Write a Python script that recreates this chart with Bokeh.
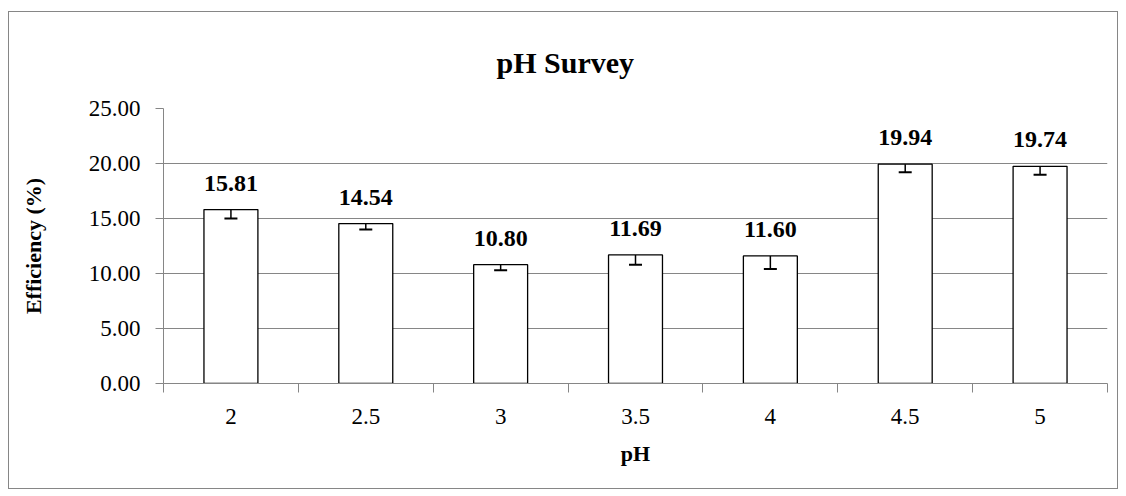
import numpy as np
from bokeh.plotting import figure
from bokeh.models import (ColumnDataSource, Whisker, TeeHead, FixedTicker, Range1d,
                          LabelSet, Title)
from bokeh.core.properties import value
from bokeh.embed import file_html
from bokeh.resources import INLINE

categories = ["2", "2.5", "3", "3.5", "4", "4.5", "5"]
efficiency = [15.81, 14.54, 10.80, 11.69, 11.60, 19.94, 19.74]
errors = [0.80, 0.55, 0.50, 0.90, 1.20, 0.73, 0.76]
y_ticks = [0, 5, 10, 15, 20, 25]

SERIF = "Liberation Serif"
GRID = "#868686"

x = np.arange(len(categories)) + 0.5
src = ColumnDataSource(dict(
    x=x, top=efficiency,
    lower=[v - e for v, e in zip(efficiency, errors)],
    label=[f"{v:.2f}" for v in efficiency],
))

p = figure(width=1110, height=478, output_backend="svg", toolbar_location=None,
           x_range=Range1d(0, len(categories)), y_range=Range1d(0, 25),
           min_border_left=154, min_border_right=12, min_border_top=96,
           min_border_bottom=107, margin=(11, 8, 7, 8),
           styles={"border": "1px solid #868686"})
p.outline_line_color = None
p.background_fill_color = "white"
p.border_fill_color = "white"

p.vbar(x="x", top="top", bottom=0, width=0.4, source=src,
       fill_color="white", line_color="black", line_width=1.3)

p.add_layout(Whisker(base="x", upper="top", lower="lower", source=src,
                     level="overlay", upper_head=None,
                     lower_head=TeeHead(size=13, line_color="black", line_width=2),
                     line_color="black", line_width=1.5))

p.add_layout(LabelSet(x="x", y="top", text="label", source=src,
                      text_align="center", text_baseline="alphabetic", y_offset=19,
                      text_font=value(SERIF), text_font_style="bold",
                      text_font_size="24px", text_color="black"))

# y axis
p.yaxis.ticker = FixedTicker(ticks=y_ticks)
p.yaxis.major_label_overrides = {t: f"{t:.2f}" for t in y_ticks}
p.yaxis.major_tick_in = 0
p.yaxis.major_tick_out = 8
p.yaxis.minor_tick_out = 0
p.yaxis.minor_tick_in = 0
p.yaxis.axis_line_color = GRID
p.yaxis.major_tick_line_color = GRID
p.yaxis.major_label_text_font = SERIF
p.yaxis.major_label_text_font_size = "23px"
p.yaxis.major_label_text_color = "black"
p.yaxis.major_label_standoff = 15
p.yaxis.axis_label = "Efficiency (%)"
p.yaxis.axis_label_text_font = SERIF
p.yaxis.axis_label_text_font_style = "bold"
p.yaxis.axis_label_text_font_size = "22px"
p.yaxis.axis_label_text_color = "black"
p.yaxis.axis_label_standoff = 40

# x axis: labels at centers, ticks at category boundaries
p.xaxis.ticker = FixedTicker(ticks=list(x), minor_ticks=list(range(len(categories) + 1)))
p.xaxis.major_label_overrides = {float(xx): c for xx, c in zip(x, categories)}
p.xaxis.major_tick_in = 0
p.xaxis.major_tick_out = 0
p.xaxis.minor_tick_in = 0
p.xaxis.minor_tick_out = 9
p.xaxis.minor_tick_line_color = GRID
p.xaxis.axis_line_color = GRID
p.xaxis.major_label_text_font = SERIF
p.xaxis.major_label_text_font_size = "23px"
p.xaxis.major_label_text_color = "black"
p.xaxis.major_label_standoff = 16
p.xaxis.axis_label = "pH"
p.xaxis.axis_label_text_font = SERIF
p.xaxis.axis_label_text_font_style = "bold"
p.xaxis.axis_label_text_font_size = "22px"
p.xaxis.axis_label_text_color = "black"
p.xaxis.axis_label_standoff = 14

p.xgrid.grid_line_color = None
p.ygrid.grid_line_color = GRID
p.ygrid.grid_line_width = 1
p.ygrid.ticker = FixedTicker(ticks=y_ticks)

p.add_layout(Title(text="pH Survey", align="left", offset=333, standoff=60,
                   text_font=SERIF, text_font_style="bold", text_font_size="30px",
                   text_color="black"), "above")

open("out.html", "w").write(file_html(p, INLINE))
